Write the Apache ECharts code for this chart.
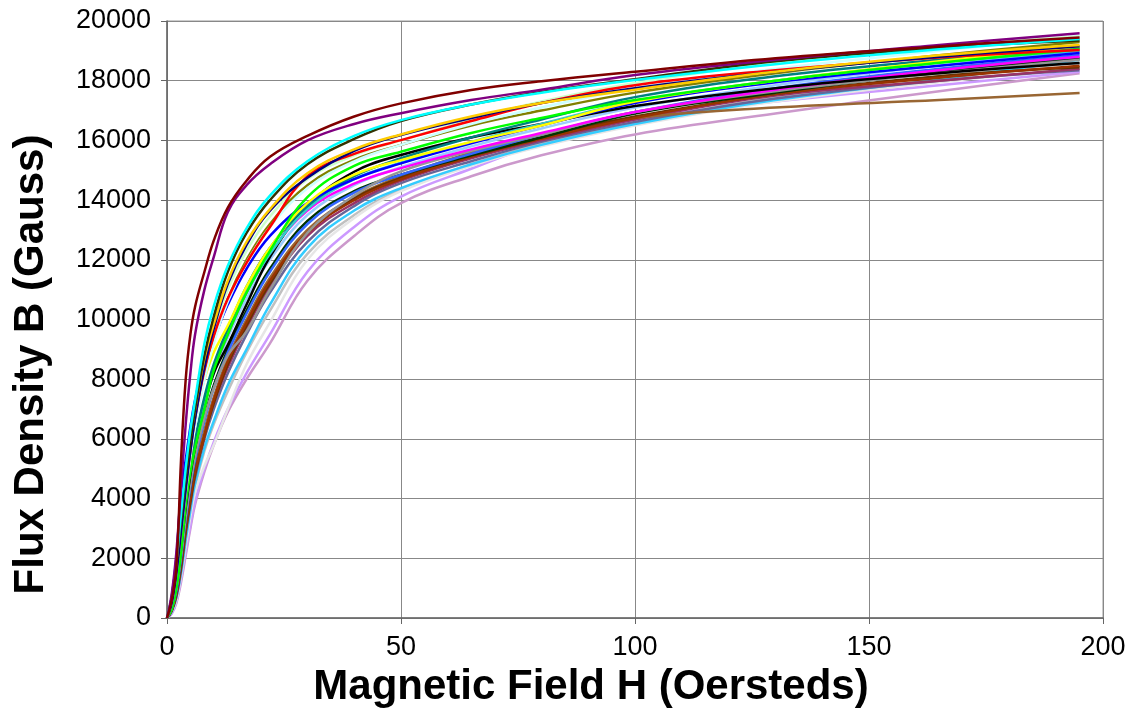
<!DOCTYPE html>
<html>
<head>
<meta charset="utf-8">
<title>B-H curves</title>
<script src="https://cdn.jsdelivr.net/npm/echarts@6/dist/echarts.min.js"></script>
<style>
  html, body { margin: 0; padding: 0; background: #fff; }
  #chart { width: 1132px; height: 717px; }
</style>
</head>
<body>
<div id="chart"></div>
<script>
// magnetic field H (Oe) where each curve was read
const hPoints = [0, 1, 2, 3, 4, 5, 6, 8, 10, 13, 17, 22, 30, 40, 50, 65, 80, 100, 130, 165, 195];

// flux density B (Gauss) per sample
const pinkLavender = [0, 150, 500, 1200, 2100, 3000, 3800, 4900, 5800, 6900, 8000, 9200, 11300, 12800, 13900, 14800, 15500, 16200, 16900, 17650, 18250];
const lavender = [0, 150, 550, 1300, 2200, 3100, 3900, 5000, 5900, 7000, 8200, 9500, 11600, 13100, 14120, 15050, 15900, 16700, 17300, 17850, 18300];
const silver = [0, 200, 650, 1500, 2500, 3500, 4400, 5600, 6500, 7600, 8900, 10300, 12200, 13500, 14350, 15200, 15900, 16600, 17450, 18150, 18600];
const paleGray = [0, 200, 600, 1400, 2400, 3400, 4200, 5100, 5800, 7000, 8500, 9900, 12000, 13400, 14300, 15150, 15800, 16500, 17300, 17950, 18400];
const lightBlue = [0, 200, 700, 1500, 2600, 3600, 4500, 5700, 6600, 7800, 9000, 10500, 12400, 13650, 14400, 15200, 15850, 16550, 17350, 18050, 18700];
const slate = [0, 250, 700, 1600, 2800, 3800, 4700, 6000, 7000, 8200, 9500, 10900, 12600, 13800, 14570, 15300, 15950, 16620, 17400, 18000, 18350];
const rose = [0, 250, 800, 1800, 3000, 4000, 4900, 6200, 7200, 8400, 9700, 11100, 12800, 13900, 14650, 15400, 16000, 16700, 17500, 18000, 18400];
const tan = [0, 250, 800, 1800, 3100, 4100, 5000, 6300, 7400, 8700, 10000, 11400, 13000, 14100, 14800, 15600, 16200, 16750, 17100, 17350, 17590];
const darkBrown = [0, 250, 800, 1700, 2900, 3900, 4800, 6100, 7200, 8500, 9800, 11200, 12900, 14050, 14750, 15500, 16100, 16800, 17550, 18150, 18450];
const brown = [0, 250, 800, 1800, 3000, 4000, 4900, 6100, 7300, 8600, 9900, 11300, 12900, 14000, 14700, 15450, 16050, 16750, 17550, 18100, 18500];
const darkGreen = [0, 300, 900, 2000, 3300, 4400, 5300, 6700, 7800, 9000, 10300, 11700, 13300, 14300, 14850, 15500, 16100, 16900, 17600, 18300, 18750];
const royalBlue = [0, 300, 900, 2000, 3300, 4400, 5300, 6600, 7700, 8900, 10200, 11600, 13200, 14250, 14850, 15550, 16200, 16950, 17750, 18400, 18850];
const gray = [0, 300, 1000, 2100, 3400, 4500, 5400, 6700, 7700, 8800, 9600, 11000, 12900, 14150, 14960, 15650, 16200, 16950, 17650, 18250, 18700];
const skyBlue = [0, 400, 1200, 2500, 3800, 4900, 5800, 7100, 8200, 9400, 10700, 12000, 13500, 14500, 15100, 15800, 16400, 17100, 17850, 18500, 18950];
const magenta = [0, 400, 1200, 2500, 3800, 4900, 5800, 7200, 8300, 9500, 10900, 12200, 13650, 14550, 15070, 15700, 16250, 16950, 17700, 18350, 18800];
const black = [0, 350, 1100, 2300, 3700, 4800, 5700, 7100, 8200, 9150, 10500, 12100, 13800, 14950, 15510, 16100, 16550, 17150, 17750, 18250, 18590];
const turquoise = [0, 450, 1300, 2600, 3900, 5000, 5900, 7300, 8400, 9600, 10900, 12200, 13700, 14700, 15250, 15950, 16550, 17300, 18000, 18600, 19000];
const teal = [0, 450, 1300, 2700, 4000, 5100, 6000, 7400, 8500, 9700, 11100, 12400, 13800, 14800, 15400, 16100, 16700, 17450, 18150, 18700, 19100];
const blue = [0, 700, 2000, 4200, 5300, 6400, 7300, 8600, 9350, 10500, 11700, 12800, 13900, 14700, 15230, 15900, 16500, 17250, 17950, 18500, 18930];
const yellowMid = [0, 400, 1300, 3200, 4300, 5900, 6600, 8000, 8900, 9800, 11100, 12400, 13900, 14850, 15340, 15950, 16500, 17300, 18000, 18650, 19150];
const green = [0, 300, 1000, 2200, 3800, 4900, 5700, 7000, 8300, 9500, 10900, 12300, 14100, 15150, 15620, 16250, 16750, 17350, 18000, 18600, 19050];
const olive = [0, 550, 1600, 2900, 4200, 5400, 6500, 8100, 9300, 10700, 12000, 13200, 14500, 15350, 15850, 16500, 17000, 17600, 18250, 18850, 19300];
const paleCyan = [0, 500, 1500, 2900, 4200, 5400, 6400, 8000, 9200, 10600, 11900, 13100, 14400, 15300, 15850, 16550, 17100, 17750, 18400, 19000, 19500];
const paleGreen = [0, 600, 1700, 3100, 4500, 5700, 6800, 8400, 9600, 11000, 12300, 13450, 14700, 15500, 16000, 16700, 17300, 17920, 18600, 19150, 19480];
const red = [0, 550, 1600, 3000, 4400, 5600, 6700, 8300, 9450, 10700, 11900, 13100, 14800, 15550, 16010, 16650, 17250, 17850, 18350, 18780, 19030];
const navy = [0, 500, 1500, 2900, 4300, 5600, 6700, 8400, 9700, 11200, 12500, 13650, 14750, 15650, 16180, 16750, 17250, 17750, 18300, 18800, 19150];
const yellowTop = [0, 700, 1900, 3400, 4800, 6000, 7000, 8700, 9850, 11300, 12600, 13700, 14900, 15700, 16200, 16800, 17250, 17700, 18300, 18850, 19200];
const oliveBlack = [0, 650, 1800, 3300, 4700, 5900, 7000, 8800, 10100, 11600, 12900, 14000, 15200, 16050, 16650, 17200, 17620, 18050, 18650, 19100, 19350];
const cyan = [0, 700, 1900, 3500, 5000, 6300, 7300, 9200, 10450, 11800, 13050, 14150, 15300, 16150, 16680, 17200, 17600, 18020, 18550, 19050, 19400];
const purple = [0, 800, 2200, 4400, 6500, 8200, 9500, 11000, 12100, 13600, 14500, 15200, 16000, 16550, 16910, 17350, 17700, 18190, 18700, 19200, 19590];
const darkRed = [0, 600, 1700, 5300, 8000, 9500, 10430, 11600, 12650, 13750, 14650, 15450, 16150, 16800, 17240, 17690, 17980, 18300, 18750, 19150, 19450];

// drawing order: back to front
const curves = [pinkLavender, lavender, silver, paleGray, lightBlue, slate, rose, tan, darkBrown, brown,
  darkGreen, royalBlue, gray, skyBlue, magenta, black, turquoise, teal, blue, yellowMid,
  green, olive, paleCyan, paleGreen, red, navy, yellowTop, oliveBlack, cyan, purple, darkRed];
const curveColors = ['#cc99cc', '#cc99ff', '#c0c0c0', '#e6e6e6', '#33ccff', '#666699', '#993366', '#996633', '#663300', '#993300',
  '#003300', '#3366ff', '#969696', '#99ccff', '#ff00ff', '#000000', '#33cccc', '#008080', '#0000ff', '#ffff00',
  '#00ff00', '#808000', '#ccffff', '#ccffcc', '#ff0000', '#000080', '#ffcc00', '#333300', '#00ffff', '#800080', '#800000'];

const xTicks = [0, 50, 100, 150, 200];
const yTicks = [0, 2000, 4000, 6000, 8000, 10000, 12000, 14000, 16000, 18000, 20000];

const chart = echarts.init(document.getElementById('chart'));

const series = curves.map((vals, i) => ({
  type: 'line',
  data: hPoints.map((h, k) => [h, vals[k]]),
  showSymbol: false,
  smooth: 0.4,
  lineStyle: { color: curveColors[i], width: 2.5 },
  itemStyle: { color: curveColors[i] },
  silent: true
}));

const font = 'Liberation Sans, Arial, sans-serif';

const option = {
  animation: false,
  backgroundColor: '#ffffff',
  grid: { left: 167, right: 29, top: 21, bottom: 99, show: true, borderColor: '#999', borderWidth: 1 },
  xAxis: {
    type: 'value',
    min: xTicks[0],
    max: xTicks[xTicks.length - 1],
    interval: 50,
    name: 'Magnetic Field H (Oersteds)',
    nameLocation: 'middle',
    nameGap: 48,
    nameTextStyle: { fontFamily: font, fontWeight: 'bold', fontSize: 42, color: '#000', padding: [0, 88, 0, 0] },
    axisLine: { show: true, onZero: false, lineStyle: { color: '#666', width: 1.5 } },
    axisTick: { show: true, length: 6, lineStyle: { color: '#666' } },
    axisLabel: { margin: 16, fontFamily: font, fontSize: 27, color: '#000', formatter: v => String(v) },
    splitLine: { show: true, lineStyle: { color: '#888', width: 1 } }
  },
  yAxis: {
    type: 'value',
    min: yTicks[0],
    max: yTicks[yTicks.length - 1],
    interval: 2000,
    name: 'Flux Density B (Gauss)',
    nameLocation: 'middle',
    nameGap: 115,
    nameTextStyle: { fontFamily: font, fontWeight: 'bold', fontSize: 42, color: '#000', padding: [0, 90, 0, 0] },
    axisLine: { show: true, lineStyle: { color: '#666', width: 1.5 } },
    axisTick: { show: true, length: 6, lineStyle: { color: '#666' } },
    axisLabel: { margin: 16, fontFamily: font, fontSize: 27, color: '#000', formatter: v => String(v) },
    splitLine: { show: true, lineStyle: { color: '#888', width: 1 } }
  },
  series: series
};

chart.setOption(option);
</script>
</body>
</html>
